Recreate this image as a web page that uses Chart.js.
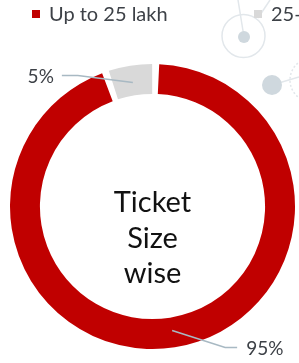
<!DOCTYPE html>
<html lang="en">
<head>
    <meta charset="UTF-8">
    <title>Ticket Size wise</title>
    <script src="https://cdn.jsdelivr.net/npm/chart.js"></script>
    <style>
        body { margin: 0; background: #fff; overflow: hidden; }
        #wrap { position: relative; width: 299px; height: 363px; }
    </style>
</head>
<body>
    <div id="wrap"><canvas id="chart" width="299" height="363"></canvas></div>

    <script>
        // data
        const labels = ['Up to 25 lakh', '25-50 lakh'];
        const values = [95, 5];
        const colors = ['#c00000', '#d9d9d9'];
        const centerLines = ['Ticket', 'Size', 'wise'];

        const textColor = '#3d4147';
        const leaderColor = '#a8b9c3';

        // faint network graphic behind the chart (top right)
        const backdrop = {
            id: 'backdrop',
            beforeDraw(chart) {
                const ctx = chart.ctx;
                ctx.save();
                ctx.strokeStyle = '#e2e7eb';
                ctx.lineWidth = 1.5;
                ctx.beginPath(); ctx.arc(243.5, 36, 21.5, 0, Math.PI * 2); ctx.stroke();
                ctx.beginPath(); ctx.moveTo(244, 37); ctx.lineTo(238, 0); ctx.stroke();
                ctx.beginPath(); ctx.moveTo(258, 18); ctx.lineTo(270, 0); ctx.stroke();
                ctx.beginPath(); ctx.moveTo(272, 85); ctx.lineTo(299, 77); ctx.stroke();
                ctx.setLineDash([2, 2]);
                ctx.beginPath(); ctx.arc(312, 80, 22, Math.PI * 0.55, Math.PI * 1.45); ctx.stroke();
                ctx.setLineDash([]);
                ctx.fillStyle = '#cfd8de';
                ctx.beginPath(); ctx.arc(244, 37, 6, 0, Math.PI * 2); ctx.fill();
                ctx.beginPath(); ctx.arc(272, 85, 10, 0, Math.PI * 2); ctx.fill();
                ctx.restore();
            }
        };

        // legend row, clipped by the canvas edge like the original
        const legendRow = {
            id: 'legendRow',
            afterDraw(chart) {
                const ctx = chart.ctx;
                const ds = chart.data.datasets[0];
                ctx.save();
                ctx.font = '20px Lato';
                ctx.textBaseline = 'middle';
                chart.data.labels.forEach((lab, i) => {
                    const x = 32 + i * 222;
                    ctx.fillStyle = ds.backgroundColor[i];
                    ctx.fillRect(x, 10, 8, 8);
                    ctx.fillStyle = textColor;
                    ctx.fillText(lab, x + 17, 15);
                });
                ctx.restore();
            }
        };

        // percent labels with leader lines + centre title
        const callouts = {
            id: 'callouts',
            afterDatasetsDraw(chart) {
                const ctx = chart.ctx;
                const meta = chart.getDatasetMeta(0);
                ctx.save();
                meta.data.forEach((arc, i) => {
                    const p = arc.getProps(['x', 'y', 'startAngle', 'endAngle', 'innerRadius', 'outerRadius'], true);
                    const mid = (p.startAngle + p.endAngle) / 2;
                    const r = (p.innerRadius + p.outerRadius) / 2;
                    const ax = p.x + Math.cos(mid) * r;
                    const ay = p.y + Math.sin(mid) * r;
                    const left = ax < p.x;
                    const ex = left ? ax - 55 : ax + 53;
                    const ey = left ? ay - 7 : ay + 17;
                    const tx = left ? ex - 16 : ex + 12;
                    ctx.strokeStyle = leaderColor;
                    ctx.lineWidth = 1.6;
                    ctx.beginPath();
                    ctx.moveTo(ax, ay);
                    ctx.lineTo(ex, ey);
                    ctx.lineTo(tx, ey);
                    ctx.stroke();
                    ctx.fillStyle = textColor;
                    ctx.font = '19px Lato';
                    ctx.textBaseline = 'middle';
                    ctx.textAlign = left ? 'right' : 'left';
                    ctx.fillText(values[i] + '%', left ? tx - 8 : tx + 9, ey + 1);
                });
                const c = meta.data[0];
                ctx.fillStyle = '#111';
                ctx.font = '29px Lato';
                ctx.textAlign = 'center';
                ctx.textBaseline = 'alphabetic';
                centerLines.forEach((t, k) => ctx.fillText(t, c.x, c.y + 5.5 + k * 35.5));
                ctx.restore();
            }
        };

        new Chart(document.getElementById('chart'), {
            type: 'doughnut',
            data: {
                labels: labels,
                datasets: [{
                    data: values,
                    backgroundColor: colors,
                    borderWidth: 0,
                    spacing: 4
                }]
            },
            options: {
                responsive: false,
                animation: false,
                radius: 140.5,
                cutout: 109,
                layout: { padding: { left: 12, right: 6, top: 66, bottom: 16 } },
                plugins: { legend: { display: false }, tooltip: { enabled: false } }
            },
            plugins: [backdrop, legendRow, callouts]
        });
    </script>
</body>
</html>
